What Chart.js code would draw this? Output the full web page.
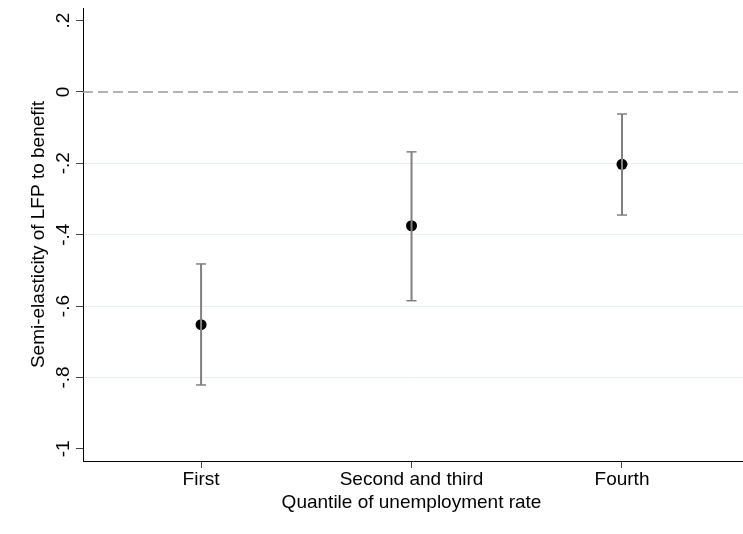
<!DOCTYPE html>
<html>
<head>
<meta charset="utf-8">
<script src="https://cdn.jsdelivr.net/npm/chart.js@4/dist/chart.umd.min.js"></script>
<style>
  html, body { margin: 0; padding: 0; background: #fff; }
  #wrap { width: 743px; height: 534px; }
</style>
</head>
<body>
<div id="wrap"><canvas id="coefChart" width="743" height="534"></canvas></div>
<script>
// values
const categories = ['First', 'Second and third', 'Fourth'];
const estimates = [-0.652, -0.375, -0.203];
const ciLower = [-0.821, -0.585, -0.345];
const ciUpper = [-0.482, -0.168, -0.062];
const yTicks = [-1, -0.8, -0.6, -0.4, -0.2, 0, 0.2];
const yTickLabels = ['-1', '-.8', '-.6', '-.4', '-.2', '0', '.2'];
const refValue = 0;

const yTitle = 'Semi-elasticity of LFP to benefit';
const xTitle = 'Quantile of unemployment rate';
const fontFamily = '"Liberation Sans", Arial, sans-serif';

const xMin = -0.561, xMax = 2.575;

let datasets = [];

// dashed reference line at zero
datasets.push({
    type: 'line',
    data: [{x: xMin, y: refValue}, {x: xMax, y: refValue}],
    borderColor: '#9a9a9a',
    borderWidth: 1.5,
    borderDash: [10, 5],
    pointRadius: 0
});

// confidence intervals with caps
for (let i = 0; i < categories.length; i += 1) {
    datasets.push({
        type: 'line',
        data: [{x: i, y: ciLower[i]}, {x: i, y: ciUpper[i]}],
        borderColor: '#808080',
        borderWidth: 2,
        pointStyle: 'line',
        pointRadius: 5,
        pointBorderColor: '#808080',
        pointBorderWidth: 1.5
    });
}

// point estimates
datasets.push({
    type: 'scatter',
    data: estimates.map(function(v, i) { return {x: i, y: v} }),
    backgroundColor: '#000',
    borderColor: '#000',
    borderWidth: 0,
    pointRadius: 5.5
});

const textPlugin = {
    id: 'statatext',
    afterDraw: function(chart) {
        const ctx = chart.ctx;
        const xs = chart.scales.x;
        const ys = chart.scales.y;
        ctx.save();
        ctx.fillStyle = '#000';
        ctx.font = '19px ' + fontFamily;
        ctx.textAlign = 'center';
        ctx.textBaseline = 'middle';

        // y tick labels, rotated
        for (let i = 0; i < yTicks.length; i += 1) {
            let py = ys.getPixelForValue(yTicks[i]);
            ctx.save();
            ctx.translate(64, py);
            ctx.rotate(-Math.PI / 2);
            ctx.fillText(yTickLabels[i], 0, 0);
            ctx.restore();
        }

        // y title
        ctx.save();
        ctx.translate(39, (chart.chartArea.top + chart.chartArea.bottom) / 2);
        ctx.rotate(-Math.PI / 2);
        ctx.fillText(yTitle, 0, 0);
        ctx.restore();

        // x tick labels
        for (let i = 0; i < categories.length; i += 1) {
            ctx.fillText(categories[i], xs.getPixelForValue(i), 480);
        }

        // x title
        ctx.fillText(xTitle, xs.getPixelForValue(1), 503);
        ctx.restore();
    }
};

const chart = new Chart(document.getElementById('coefChart').getContext('2d'), {
    type: 'scatter',
    data: { datasets: datasets },
    options: {
        responsive: false,
        animation: false,
        layout: { autoPadding: false, padding: { left: 76, top: 8, right: 0, bottom: 66 } },
        plugins: {
            legend: { display: false },
            tooltip: { enabled: false }
        },
        scales: {
            x: {
                type: 'linear',
                min: xMin,
                max: xMax,
                afterBuildTicks: function(scale) {
                    scale.ticks = categories.map(function(c, i) { return {value: i} });
                },
                ticks: { display: false },
                grid: {
                    drawOnChartArea: false,
                    tickLength: 7,
                    tickColor: '#444',
                    tickWidth: 1
                },
                border: { display: true, color: '#000', width: 1 }
            },
            y: {
                type: 'linear',
                min: -1.034,
                max: 0.235,
                afterBuildTicks: function(scale) {
                    scale.ticks = yTicks.map(function(v) { return {value: v} });
                },
                ticks: { display: false },
                grid: {
                    color: function(c) {
                        let v = c.tick ? c.tick.value : null;
                        if (v === null || v <= -1 || v >= 0) return 'rgba(0,0,0,0)';
                        return '#e6eef0';
                    },
                    lineWidth: 1,
                    tickLength: 7,
                    tickColor: '#444',
                    tickWidth: 1
                },
                border: { display: true, color: '#000', width: 1 }
            }
        }
    },
    plugins: [textPlugin]
});
</script>
</body>
</html>
